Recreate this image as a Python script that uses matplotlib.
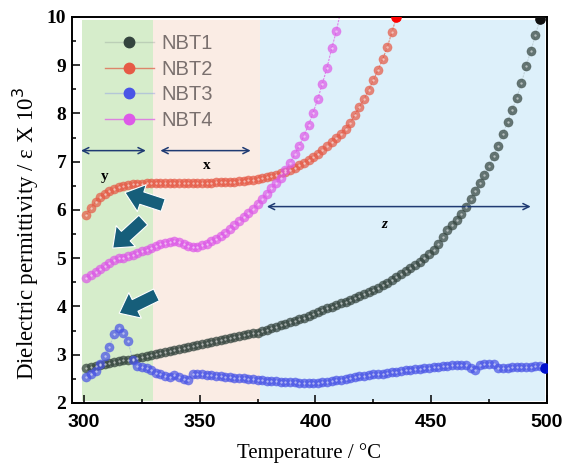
import numpy as np
import matplotlib
matplotlib.use("Agg")
import matplotlib.pyplot as plt
from matplotlib.lines import Line2D

# ---- data (temperature grid, 2 degC step) ----
TEMP = np.arange(301, 500, 2)

NBT1 = [2.73, 2.75, 2.77, 2.79, 2.81, 2.83, 2.85, 2.87, 2.88, 2.90,
        2.92, 2.94, 2.96, 2.98, 3.00, 3.02, 3.04, 3.06, 3.08, 3.10,
        3.12, 3.14, 3.16, 3.18, 3.20, 3.22, 3.24, 3.26, 3.28, 3.30,
        3.32, 3.34, 3.36, 3.38, 3.40, 3.42, 3.44, 3.46, 3.49, 3.52,
        3.55, 3.58, 3.61, 3.64, 3.67, 3.70, 3.73, 3.77, 3.80, 3.84,
        3.89, 3.92, 3.96, 3.99, 4.03, 4.07, 4.10, 4.14, 4.18, 4.22,
        4.26, 4.30, 4.34, 4.39, 4.44, 4.49, 4.55, 4.61, 4.68, 4.74,
        4.80, 4.86, 4.93, 5.00, 5.08, 5.18, 5.30, 5.43, 5.58, 5.69,
        5.80, 5.92, 6.07, 6.23, 6.39, 6.55, 6.72, 6.91, 7.12, 7.33,
        7.57, 7.82, 8.07, 8.33, 8.63, 8.98, 9.29, 9.62, 9.96]

NBT2 = [5.90, 6.05, 6.17, 6.27, 6.34, 6.39, 6.43, 6.47, 6.50, 6.52,
        6.53, 6.54, 6.54, 6.55, 6.55, 6.55, 6.55, 6.55, 6.55, 6.55,
        6.55, 6.55, 6.55, 6.55, 6.55, 6.56, 6.56, 6.56, 6.57, 6.57,
        6.58, 6.58, 6.59, 6.60, 6.61, 6.62, 6.63, 6.64, 6.66, 6.68,
        6.70, 6.73, 6.76, 6.79, 6.83, 6.88, 6.93, 6.98, 7.04, 7.10,
        7.17, 7.24, 7.32, 7.41, 7.50, 7.58, 7.68, 7.80, 7.97, 8.14,
        8.30, 8.49, 8.69, 8.90, 9.12, 9.37, 9.68, 10.00]

NBT3 = [2.53, 2.61, 2.67, 2.80, 2.98, 3.17, 3.42, 3.56, 3.46, 3.28,
        2.90, 2.77, 2.74, 2.72, 2.68, 2.63, 2.59, 2.56, 2.54, 2.58,
        2.53, 2.50, 2.48, 2.60, 2.60, 2.59, 2.58, 2.57, 2.56, 2.55,
        2.54, 2.53, 2.52, 2.51, 2.51, 2.50, 2.49, 2.48, 2.47, 2.46,
        2.45, 2.45, 2.44, 2.44, 2.43, 2.43, 2.42, 2.42, 2.42, 2.42,
        2.42, 2.43, 2.44, 2.45, 2.47, 2.48, 2.50, 2.52, 2.53, 2.55,
        2.56, 2.58, 2.59, 2.60, 2.61, 2.63, 2.64, 2.65, 2.66, 2.68,
        2.69, 2.70, 2.71, 2.72, 2.73, 2.74, 2.75, 2.76, 2.77, 2.78,
        2.78, 2.79, 2.79, 2.72, 2.69, 2.79, 2.81, 2.81, 2.80, 2.73,
        2.73, 2.73, 2.74, 2.74, 2.74, 2.75, 2.75, 2.76, 2.77, 2.72]

NBT4 = [4.60, 4.66, 4.71, 4.78, 4.84, 4.91, 4.97, 5.00, 5.01, 5.04,
        5.07, 5.10, 5.14, 5.17, 5.21, 5.25, 5.29, 5.32, 5.34, 5.35,
        5.33, 5.30, 5.26, 5.24, 5.24, 5.27, 5.30, 5.35, 5.40, 5.47,
        5.53, 5.61, 5.69, 5.77, 5.86, 5.94, 6.03, 6.13, 6.23, 6.33,
        6.45, 6.56, 6.67, 6.82, 6.97, 7.15, 7.33, 7.54, 7.76, 8.02,
        8.30, 8.62, 8.95, 9.35, 9.70, 10.15]

LABELS = ["NBT1", "NBT2", "NBT3", "NBT4"]
SERIES = [NBT1, NBT2, NBT3, NBT4]

# temperature regions y / x / z
REGIONS = [(299, 330), (330, 376), (376, 499)]
REGION_COLORS = ["#d6edcb", "#faece4", "#ddf0fa"]

# marker colours, line colours, end-point colours
MCOL = ["#34443e", "#e65a46", "#4a55e6", "#dd5ae8"]
LCOL = [(0.5, 0.55, 0.55, 0.3), (0.88, 0.42, 0.32, 0.8),
        (0.55, 0.6, 0.9, 0.45), (0.88, 0.4, 0.9, 0.8)]
ENDCOL = ["#111111", "#ff0000", "#0010cc", None]

SERIF = ["Liberation Serif", "DejaVu Serif"]
SANS = ["Liberation Sans", "DejaVu Sans"]

fig = plt.figure(figsize=(5.65, 4.68), dpi=100)
ax = fig.add_axes([0.1274, 0.139, 0.8406, 0.8247])

for (a, b), c in zip(REGIONS, REGION_COLORS):
    ax.axvspan(a, b, ymin=0.005, ymax=0.993, color=c, lw=0, zorder=0)

for vals, mc, lc, ec in zip(SERIES, MCOL, LCOL, ENDCOL):
    t = TEMP[:len(vals)]
    ax.plot(t, vals, color=lc, lw=0.8, ls=(0, (2, 1)), zorder=2)
    ax.plot(t, vals, ls="none", marker="o", ms=6.6, mfc=mc, mec=mc,
            mew=0.3, alpha=0.72, zorder=3)
    ax.plot(t, vals, ls="none", marker="o", ms=1.7, mfc="white",
            mec="none", alpha=0.55, zorder=4)
    if ec:
        ax.plot(t[-1], vals[-1], ls="none", marker="o", ms=6.6, mfc=ec,
                mec=ec, zorder=5)

# double-headed range arrows
arrow_kw = dict(arrowstyle="<->", color="#1f3b73", lw=1.1, mutation_scale=11,
                shrinkA=0, shrinkB=0)
ax.annotate("", xy=(298.7, 7.23), xytext=(326.7, 7.23), arrowprops=arrow_kw)
ax.annotate("", xy=(333, 7.23), xytext=(372, 7.23), arrowprops=arrow_kw)
ax.annotate("", xy=(379, 6.07), xytext=(493, 6.07), arrowprops=arrow_kw)
for txt, xx, yy in [("y", 309, 6.69), ("x", 353, 6.92), ("z", 429.7, 5.69)]:
    ax.text(xx, yy, txt, ha="center", va="center", fontsize=11,
            fontweight="bold", family=SERIF, style="italic" if txt == "z" else "normal")

# thick teal pointer arrows
block_kw = dict(arrowstyle="simple,head_length=0.75,head_width=1.2,tail_width=0.55",
                fc="#165e7a", ec="white", lw=0.8, mutation_scale=17,
                shrinkA=0, shrinkB=0)
for tip, tail in [((317.7, 6.36), (334.2, 6.10)),
                  ((312.4, 5.21), (325.6, 5.79)),
                  ((315.2, 3.86), (331.3, 4.24))]:
    ax.annotate("", xy=tip, xytext=tail, arrowprops=block_kw, zorder=6)

ax.set_xlim(294.8, 500)
ax.set_ylim(2, 10)
ax.set_xticks([300, 350, 400, 450, 500])
ax.set_xticks([325, 375, 425, 475], minor=True)
ax.set_yticks(range(2, 11))
ax.set_yticks(np.arange(2.5, 10, 1), minor=True)
ax.tick_params(which="both", direction="in", top=False, right=False, width=1.1)
ax.tick_params(which="major", length=5.5)
ax.tick_params(which="minor", length=3)
for lab in ax.get_xticklabels():
    lab.set_fontfamily(SANS)
    lab.set_fontweight("bold")
    lab.set_fontsize(14)
for lab in ax.get_yticklabels():
    lab.set_fontfamily(SERIF)
    lab.set_fontweight("bold")
    lab.set_fontsize(14)
ax.tick_params(axis="x", pad=8)
ax.tick_params(axis="y", pad=4)
for sp in ax.spines.values():
    sp.set_linewidth(1.4)

ax.set_xlabel("Temperature / \u00b0C", family=SERIF, fontsize=15, labelpad=9)
ax.set_ylabel("Dielectric permittivity / \u03b5 X 10$^3$", family=SERIF,
              fontsize=16.5)
ax.yaxis.set_label_coords(-0.066, 0.44)

handles = []
for lab, mc, lc in zip(LABELS, MCOL, LCOL):
    handles.append(Line2D([], [], color=lc, lw=1.0, marker="o", ms=7.5,
                          mfc=mc, mec=mc, label=lab))
ax.legend(handles=handles, loc="upper left", bbox_to_anchor=(0.07, 0.955),
          frameon=False, borderpad=0, borderaxespad=0, handlelength=2.4,
          handletextpad=0.4, labelspacing=0.32,
          prop={"family": SANS, "size": 14.5}, labelcolor="#7a706e")

fig.savefig("out.png", dpi=100)
